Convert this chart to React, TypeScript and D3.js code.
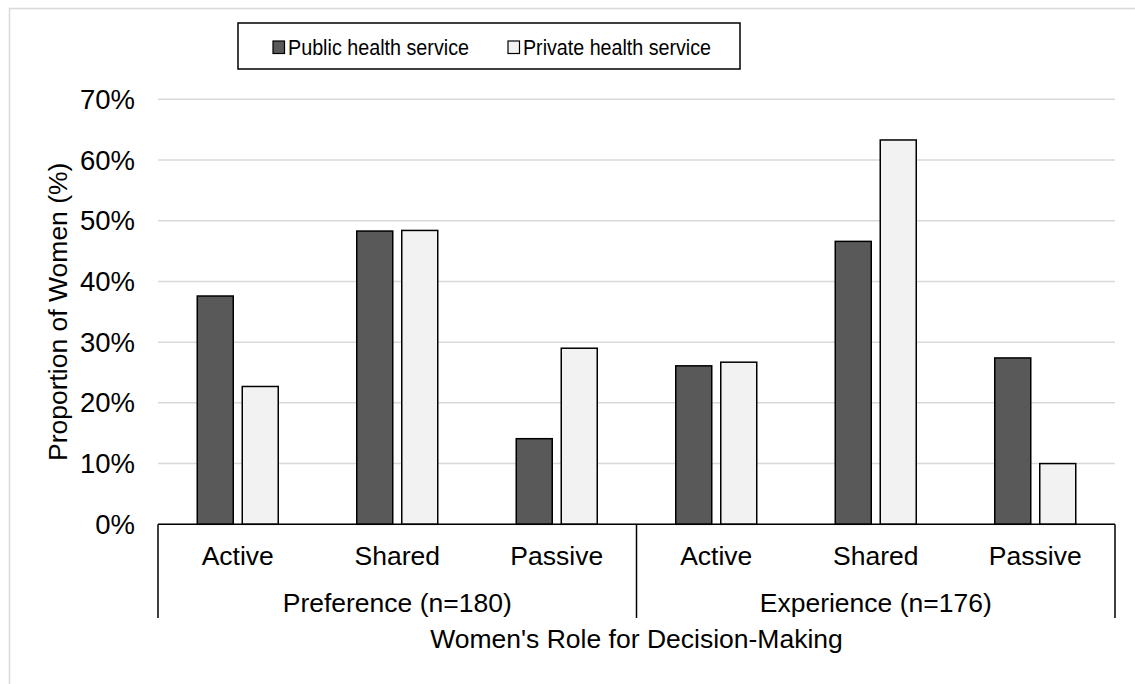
import React from "react";
import * as d3 from "d3";

// Decision-making role by health service type
const categories = ["Active", "Shared", "Passive", "Active", "Shared", "Passive"];
const groups = ["Preference (n=180)", "Experience (n=176)"];
const groupSize = 3;
const seriesNames = ["Public health service", "Private health service"];
const publicValues = [37.6, 48.3, 14.1, 26.1, 46.6, 27.4];
const privateValues = [22.7, 48.4, 29.0, 26.7, 63.3, 10.0];
const yTicks = [0, 10, 20, 30, 40, 50, 60, 70];
const seriesColors = ["#595959", "#f2f2f2"];

const W = 1135;
const H = 684;
const plot = { left: 158, right: 1115, top: 99.3, bottom: 524.3 };
const FONT = "Arial, 'Liberation Sans', Helvetica, sans-serif";
const AXIS_FONT = 26.5;

export default function App() {
  const keys = categories.map((_, i) => String(i));
  const x0 = d3.scaleBand<string>().domain(keys).range([plot.left, plot.right]).padding(0);
  const pairWidth = 81;
  const x1 = d3
    .scaleBand<string>()
    .domain(seriesNames)
    .range([0, pairWidth])
    .paddingInner(0.2)
    .paddingOuter(0);
  const y = d3.scaleLinear().domain([0, 70]).range([plot.bottom, plot.top]);

  const seriesValues = [publicValues, privateValues];
  const axisBottom = 618;

  const groupEdges = d3.range(groups.length + 1).map((g) =>
    g === groups.length ? plot.right : (x0(String(g * groupSize)) as number)
  );

  return (
    <svg
      width={W}
      height={H}
      style={{ position: "absolute", left: 0, top: 0, background: "#fff" }}
      fontFamily={FONT}
    >
      {/* chart area border */}
      <rect x={9.5} y={8.5} width={W + 20} height={H + 20} fill="none" stroke="#d9d9d9" strokeWidth={1.5} />

      {/* gridlines */}
      {yTicks.map((t) => (
        <line
          key={t}
          x1={plot.left}
          x2={plot.right}
          y1={y(t)}
          y2={y(t)}
          stroke="#d9d9d9"
          strokeWidth={1.5}
        />
      ))}

      {/* y tick labels */}
      {yTicks.map((t) => (
        <text
          key={"l" + t}
          x={135}
          y={y(t)}
          dy="0.35em"
          textAnchor="end"
          fontSize={27.5}
          fill="#000"
        >
          {t}%
        </text>
      ))}

      {/* bars */}
      {keys.map((k, i) => {
        const offset = (x0(k) as number) + x0.bandwidth() / 2 - pairWidth / 2;
        return seriesNames.map((s, j) => {
          const v = seriesValues[j][i];
          return (
            <rect
              key={k + s}
              x={offset + (x1(s) as number)}
              y={y(v)}
              width={x1.bandwidth()}
              height={y(0) - y(v)}
              fill={seriesColors[j]}
              stroke="#000"
              strokeWidth={1.5}
            />
          );
        });
      })}

      {/* category axis frame */}
      <line x1={plot.left} x2={plot.right} y1={plot.bottom} y2={plot.bottom} stroke="#000" strokeWidth={1.5} />
      {groupEdges.map((gx, i) => (
        <line key={"e" + i} x1={gx} x2={gx} y1={plot.bottom} y2={axisBottom} stroke="#000" strokeWidth={1.5} />
      ))}

      {/* category labels */}
      {keys.map((k, i) => (
        <text
          key={"c" + k}
          x={(x0(k) as number) + x0.bandwidth() / 2}
          y={565}
          textAnchor="middle"
          fontSize={AXIS_FONT}
        >
          {categories[i]}
        </text>
      ))}

      {/* group labels */}
      {groups.map((g, i) => (
        <text
          key={g}
          x={(groupEdges[i] + groupEdges[i + 1]) / 2}
          y={612}
          textAnchor="middle"
          fontSize={AXIS_FONT}
        >
          {g}
        </text>
      ))}

      {/* axis titles */}
      <text x={(plot.left + plot.right) / 2} y={648} textAnchor="middle" fontSize={AXIS_FONT}>
        Women's Role for Decision-Making
      </text>
      <text
        transform={`translate(67, ${(plot.top + plot.bottom) / 2}) rotate(-90)`}
        textAnchor="middle"
        fontSize={AXIS_FONT}
      >
        Proportion of Women (%)
      </text>

      {/* legend */}
      <rect x={238} y={23} width={502} height={46} fill="#fff" stroke="#000" strokeWidth={1.5} />
      {seriesNames.map((s, j) => {
        const lx = j === 0 ? 273 : 508;
        const len = j === 0 ? 181 : 188;
        return (
          <g key={"lg" + s}>
            <rect x={lx} y={41} width={11.5} height={12.5} fill={seriesColors[j]} stroke="#000" strokeWidth={1.2} />
            <text x={lx + 15} y={55} fontSize={21.5} textLength={len} lengthAdjust="spacingAndGlyphs">
              {s}
            </text>
          </g>
        );
      })}
    </svg>
  );
}
